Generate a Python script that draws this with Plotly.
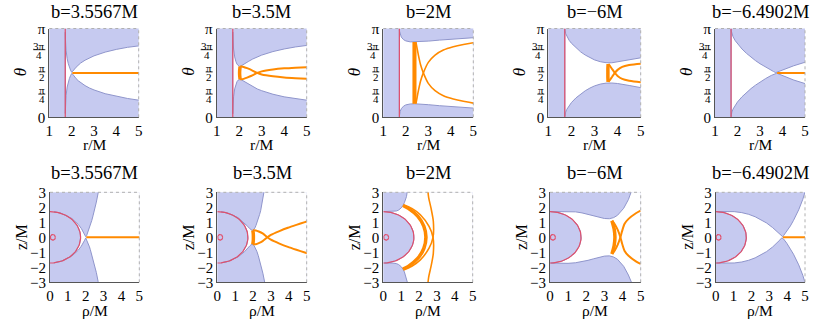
import numpy as np
import plotly.graph_objects as go

# ---------------- data ----------------
R_HORIZON = 1.714

TITLES = ["b=3.5567M", "b=3.5M", "b=2M", "b=−6M", "b=−6.4902M"]

R_TICKS = [1, 2, 3, 4, 5]
THETA_TICKS = [0, 0.25, 0.5, 0.75, 1]
THETA_TICK_TEXT = ["0", "π/4", "π/2", "3π/4", "π"]
RHO_TICKS = [0, 1, 2, 3, 4, 5]
Z_TICKS = [-3, -2, -1, 0, 1, 2, 3]
Z_TICK_TEXT = ["−3", "−2", "−1", "0", "1", "2", "3"]

# lower edge of the allowed (white) region, theta in units of pi; upper edge is its mirror
BND1_R = [1.715, 1.72, 1.75, 1.8, 1.85, 1.9, 1.95, 2.0, 2.05, 2.1, 2.2, 2.3, 2.4, 2.6, 2.8, 3.0, 3.5, 4.0, 4.5, 5.0, 5.5, 6.0]
BND1_TH = [0.0421, 0.1079, 0.2443, 0.3409, 0.3969, 0.4375, 0.4685, 0.4934, 0.4845, 0.4661, 0.4356, 0.4107, 0.3895, 0.3569, 0.3296, 0.3080, 0.2659, 0.2354, 0.2119, 0.1929, 0.1774, 0.1641]
BND2_R = [1.715, 1.72, 1.75, 1.8, 1.85, 1.9, 1.95, 2.0, 2.05, 2.1, 2.2, 2.3, 2.4, 2.6, 2.8, 3.0, 3.5, 4.0, 4.5, 5.0, 5.5, 6.0]
BND2_TH = [0.0397, 0.1020, 0.2308, 0.3204, 0.3699, 0.4004, 0.4184, 0.4265, 0.4267, 0.4221, 0.4073, 0.3892, 0.3727, 0.3437, 0.3195, 0.2995, 0.2598, 0.2305, 0.2077, 0.1893, 0.1740, 0.1611]
BND3_R = [1.715, 1.72, 1.75, 1.8, 1.9, 2.0, 2.2, 2.4, 2.6, 3.0, 3.5, 4.0, 4.5, 5.0, 5.5, 6.0]
BND3_TH = [0.0110, 0.0284, 0.0672, 0.0969, 0.1257, 0.1396, 0.1504, 0.1521, 0.1501, 0.1421, 0.1306, 0.1199, 0.1104, 0.1021, 0.0949, 0.0886]
BND4_R = [1.715, 1.72, 1.75, 1.8, 1.9, 2.0, 2.2, 2.4, 2.6, 2.8, 3.0, 3.25, 3.5, 3.75, 4.0, 4.5, 5.0, 5.5, 6.0]
BND4_TH = [0.0088, 0.0230, 0.0570, 0.0888, 0.1322, 0.1656, 0.2194, 0.2631, 0.2990, 0.3290, 0.3534, 0.3739, 0.3849, 0.3860, 0.3805, 0.3585, 0.3323, 0.3082, 0.2856]
BND5_R = [1.715, 1.72, 1.75, 1.8, 1.9, 2.0, 2.2, 2.4, 2.6, 2.8, 3.0, 3.25, 3.5, 3.6, 3.7, 3.75, 3.8, 4.0, 4.25, 4.5, 5.0, 5.5, 6.0]
BND5_TH = [0.0091, 0.0238, 0.0590, 0.0921, 0.1377, 0.1731, 0.2312, 0.2799, 0.3233, 0.3618, 0.3965, 0.4361, 0.4713, 0.4844, 0.4969, 0.4965, 0.4908, 0.4686, 0.4430, 0.4195, 0.3801, 0.3473, 0.3190]

# photon trajectories (r/M, theta/pi)
T1_LINE_R = [2.03, 5.3]
T1_LINE_TH = [0.5, 0.5]

T2_BAND_R = [2.04, 2.03, 2.02, 2.02, 2.03, 2.04]
T2_BAND_TH = [0.572, 0.55, 0.52, 0.48, 0.45, 0.428]
T2_LEGA_R = [2.04, 2.1, 2.2, 2.35, 2.55, 2.8, 3.0, 3.5, 4.0, 4.5, 5.0, 5.2]
T2_LEGA_TH = [0.572, 0.572, 0.567, 0.553, 0.532, 0.5, 0.483, 0.462, 0.449, 0.441, 0.435, 0.433]
T2_LEGB_R = [2.04, 2.1, 2.2, 2.35, 2.55, 2.8, 3.0, 3.5, 4.0, 4.5, 5.0, 5.2]
T2_LEGB_TH = [0.428, 0.428, 0.433, 0.447, 0.468, 0.5, 0.517, 0.538, 0.551, 0.559, 0.565, 0.567]

T3_BAND1_R = [2.33, 2.33, 2.33, 2.33, 2.33, 2.33, 2.33, 2.33, 2.33]
T3_BAND1_TH = [0.153, 0.2, 0.3, 0.4, 0.5, 0.6, 0.7, 0.8, 0.847]
T3_BAND2_R = [2.38, 2.38, 2.38, 2.38, 2.38, 2.38, 2.38, 2.38, 2.38]
T3_BAND2_TH = [0.153, 0.2, 0.3, 0.4, 0.5, 0.6, 0.7, 0.8, 0.847]
T3_BAND3_R = [2.44, 2.44, 2.44, 2.44, 2.44, 2.44, 2.44, 2.44, 2.44]
T3_BAND3_TH = [0.153, 0.2, 0.3, 0.4, 0.5, 0.6, 0.7, 0.8, 0.847]
T3_LEGA_R = [2.45, 2.5, 2.56, 2.66, 2.78, 3.0, 3.3, 3.67, 4.11, 4.56, 5.0, 5.3]
T3_LEGA_TH = [0.847, 0.78, 0.70, 0.588, 0.5, 0.382, 0.30, 0.243, 0.206, 0.18, 0.16, 0.152]
T3_LEGB_R = [2.45, 2.5, 2.56, 2.66, 2.78, 3.0, 3.3, 3.67, 4.11, 4.56, 5.0, 5.3]
T3_LEGB_TH = [0.153, 0.22, 0.30, 0.412, 0.5, 0.618, 0.70, 0.757, 0.794, 0.82, 0.84, 0.848]

T4_BAND_R = [3.59, 3.58, 3.58, 3.58, 3.59]
T4_BAND_TH = [0.40, 0.45, 0.5, 0.55, 0.60]
T4_LEGA_R = [3.60, 3.68, 3.77, 3.88, 4.0, 4.2, 4.5, 5.0, 5.3]
T4_LEGA_TH = [0.60, 0.575, 0.54, 0.5, 0.466, 0.432, 0.412, 0.396, 0.391]
T4_LEGB_R = [3.60, 3.68, 3.77, 3.88, 4.0, 4.2, 4.5, 5.0, 5.3]
T4_LEGB_TH = [0.40, 0.425, 0.46, 0.5, 0.534, 0.568, 0.588, 0.604, 0.609]

T5_LINE_R = [3.76, 5.3]
T5_LINE_TH = [0.5, 0.5]

INNER_RING_CENTER = [0.16, 0.0]
INNER_RING_RADII = [0.14, 0.19]

BOUNDARIES = [(BND1_R, BND1_TH), (BND2_R, BND2_TH), (BND3_R, BND3_TH), (BND4_R, BND4_TH), (BND5_R, BND5_TH)]
THIN, THICK = 2.0, 3.5
TRAJECTORIES = [
    [(T1_LINE_R, T1_LINE_TH, THIN)],
    [(T2_BAND_R, T2_BAND_TH, THICK), (T2_LEGA_R, T2_LEGA_TH, THIN), (T2_LEGB_R, T2_LEGB_TH, THIN)],
    [(T3_BAND1_R, T3_BAND1_TH, 1.6), (T3_BAND2_R, T3_BAND2_TH, 1.6), (T3_BAND3_R, T3_BAND3_TH, 1.6),
     (T3_LEGA_R, T3_LEGA_TH, 1.6), (T3_LEGB_R, T3_LEGB_TH, 1.6)],
    [(T4_BAND_R, T4_BAND_TH, THICK), (T4_LEGA_R, T4_LEGA_TH, THIN), (T4_LEGB_R, T4_LEGB_TH, THIN)],
    [(T5_LINE_R, T5_LINE_TH, THIN)],
]

# ---------------- style / layout ----------------
W, H = 822, 319
FONT = "Liberation Serif"
BLUE_FILL = "#c6caf0"
EDGE = "#8f95cb"
ORANGE = "#ff8a00"
RED = "#e0506c"
TOP_X = [(49.3, 138.7), (216.7, 306.7), (383.3, 473.3), (548.3, 640.7), (715.0, 805.0)]
BOT_X = [(50.0, 139.3), (217.3, 306.7), (383.3, 472.7), (550.0, 640.7), (715.7, 805.0)]
TOP_Y = (28.5, 117.3)
BOT_Y = (192.3, 282.3)


def px(x):
    return x / W


def py(y):
    return 1 - y / H


def to_rho_z(r, th):
    """(r, theta/pi) -> meridional-plane coordinates (rho, z)."""
    r = np.asarray(r, float)
    t = np.pi * np.asarray(th, float)
    return r * np.sin(t), r * np.cos(t)


fig = go.Figure()
annotations = []
shapes = []


def ax_names(n):
    s = "" if n == 1 else str(n)
    return "x" + s, "y" + s


for k in range(5):
    r_b = np.array(BOUNDARIES[k][0], float)
    th_lo = np.array(BOUNDARIES[k][1], float)
    th_hi = 1 - th_lo

    # ----- top panel (r, theta) -----
    xa, ya = ax_names(k + 1)
    fig.add_trace(go.Scatter(x=np.concatenate([r_b, r_b[::-1], r_b[:1]]),
                             y=np.concatenate([th_lo, th_hi[::-1], th_lo[:1]]),
                             mode="lines", fill="toself", fillcolor="white",
                             line=dict(color=EDGE, width=1), xaxis=xa, yaxis=ya,
                             hoverinfo="skip", showlegend=False))
    fig.add_trace(go.Scatter(x=[R_HORIZON, R_HORIZON], y=[0, 1], mode="lines",
                             line=dict(color=RED, width=1.2), xaxis=xa, yaxis=ya,
                             hoverinfo="skip", showlegend=False))
    for tr, tth, w in TRAJECTORIES[k]:
        fig.add_trace(go.Scatter(x=tr, y=tth, mode="lines",
                                 line=dict(color=ORANGE, width=w, shape="spline", smoothing=0.6),
                                 xaxis=xa, yaxis=ya, hoverinfo="skip", showlegend=False))

    # ----- bottom panel (rho, z) -----
    xb, yb = ax_names(k + 6)
    arc_out = np.linspace(th_lo[-1], th_hi[-1], 40)
    arc_in = np.linspace(th_hi[0], th_lo[0], 60)
    pr = np.concatenate([r_b, np.full(arc_out.size, r_b[-1]), r_b[::-1], np.full(arc_in.size, r_b[0])])
    pt = np.concatenate([th_lo, arc_out, th_hi[::-1], arc_in])
    rho, z = to_rho_z(pr, pt)
    fig.add_trace(go.Scatter(x=rho, y=z, mode="lines", fill="toself", fillcolor="white",
                             line=dict(color=EDGE, width=1), xaxis=xb, yaxis=yb,
                             hoverinfo="skip", showlegend=False))
    hth = np.linspace(0, 1, 80)
    hr, hz = to_rho_z(np.full(hth.size, R_HORIZON), hth)
    fig.add_trace(go.Scatter(x=hr, y=hz, mode="lines", line=dict(color=RED, width=1.2),
                             xaxis=xb, yaxis=yb, hoverinfo="skip", showlegend=False))
    ang = np.linspace(0, 2 * np.pi, 40)
    fig.add_trace(go.Scatter(x=INNER_RING_CENTER[0] + INNER_RING_RADII[0] * np.cos(ang),
                             y=INNER_RING_CENTER[1] + INNER_RING_RADII[1] * np.sin(ang),
                             mode="lines", line=dict(color=RED, width=1.2),
                             xaxis=xb, yaxis=yb, hoverinfo="skip", showlegend=False))
    for tr, tth, w in TRAJECTORIES[k]:
        tx, tz = to_rho_z(tr, tth)
        fig.add_trace(go.Scatter(x=tx, y=tz, mode="lines",
                                 line=dict(color=ORANGE, width=w, shape="spline", smoothing=0.6),
                                 xaxis=xb, yaxis=yb, hoverinfo="skip", showlegend=False))

layout = dict(width=W, height=H, margin=dict(l=0, r=0, t=0, b=0, autoexpand=False),
              paper_bgcolor="white", plot_bgcolor=BLUE_FILL, showlegend=False,
              font=dict(family=FONT, color="black"))

common = dict(showgrid=False, zeroline=False, showline=True, linecolor="#555555",
              linewidth=1, ticks="", tickfont=dict(family=FONT, size=15, color="black"),
              fixedrange=True, automargin=False)

for k in range(5):
    n = k + 1
    s = "" if n == 1 else str(n)
    layout["xaxis" + s] = dict(common, domain=[px(TOP_X[k][0]), px(TOP_X[k][1])],
                               range=[1, 5], tickvals=R_TICKS, anchor="y" + s)
    layout["yaxis" + s] = dict(common, domain=[py(TOP_Y[1]), py(TOP_Y[0])], range=[0, 1],
                               tickvals=[THETA_TICKS[0], THETA_TICKS[-1]],
                               ticktext=[THETA_TICK_TEXT[0], THETA_TICK_TEXT[-1]], anchor="x" + s)
    n = k + 6
    s = str(n)
    layout["xaxis" + s] = dict(common, domain=[px(BOT_X[k][0]), px(BOT_X[k][1])],
                               range=[0, 5], tickvals=RHO_TICKS, anchor="y" + s)
    layout["yaxis" + s] = dict(common, domain=[py(BOT_Y[1]), py(BOT_Y[0])], range=[-3, 3],
                               tickvals=Z_TICKS, ticktext=Z_TICK_TEXT, anchor="x" + s)

    for n in (k + 1, k + 6):
        s = "" if n == 1 else str(n)
        for (x0, y0, x1, y1) in [(0, 1, 1, 1), (1, 0, 1, 1)]:
            shapes.append(dict(type="line", xref="x" + s + " domain", yref="y" + s + " domain",
                               x0=x0, y0=y0, x1=x1, y1=y1,
                               line=dict(color="#b0b0b0", width=1, dash="dot")))

    def label(text, xpix, ypix, size, angle=0):
        annotations.append(dict(text=text, x=px(xpix), y=py(ypix), xref="paper", yref="paper",
                                showarrow=False, xanchor="center", yanchor="middle",
                                textangle=angle, font=dict(family=FONT, size=size)))

    cx = (TOP_X[k][0] + TOP_X[k][1]) / 2
    cxb = (BOT_X[k][0] + BOT_X[k][1]) / 2
    label(TITLES[k], cx, 12, 18.5)
    label("r/M", cx, 144.5, 15.5)
    label(TITLES[k], cxb, 173, 18.5)
    label("ρ/M", cxb, 310.5, 15.5)
    label("<i>θ</i>", TOP_X[k][0] - 29, 72, 17, -90)
    label("z/M", BOT_X[k][0] - 29, 237, 16, -90)

    # stacked-fraction tick labels for the theta axis
    axis_px = TOP_X[k][0]
    for val, lab in zip(THETA_TICKS, THETA_TICK_TEXT):
        if "/" not in lab:
            continue
        num, den = lab.split("/")
        wbar = 12 if len(num) > 1 else 7
        xc = px(axis_px - 4 - wbar / 2)
        ypix = TOP_Y[1] - val * (TOP_Y[1] - TOP_Y[0]) - 1
        annotations.append(dict(text=num, x=xc, y=py(ypix), xref="paper", yref="paper",
                                showarrow=False, xanchor="center", yanchor="bottom", borderpad=0,
                                yshift=-3, font=dict(family=FONT, size=11)))
        annotations.append(dict(text=den, x=xc, y=py(ypix), xref="paper", yref="paper",
                                showarrow=False, xanchor="center", yanchor="top", borderpad=0,
                                yshift=2, font=dict(family=FONT, size=11)))
        shapes.append(dict(type="line", xref="paper", yref="paper",
                           x0=px(axis_px - 4 - wbar), x1=px(axis_px - 4), y0=py(ypix), y1=py(ypix),
                           line=dict(color="black", width=0.8)))

layout["annotations"] = annotations
layout["shapes"] = shapes
fig.update_layout(**layout)
fig.write_html("out.html", config={"displayModeBar": False, "staticPlot": True},
               post_script="document.body.style.margin='0px';document.body.style.padding='0px';"
                           "document.body.style.overflow='hidden';")
